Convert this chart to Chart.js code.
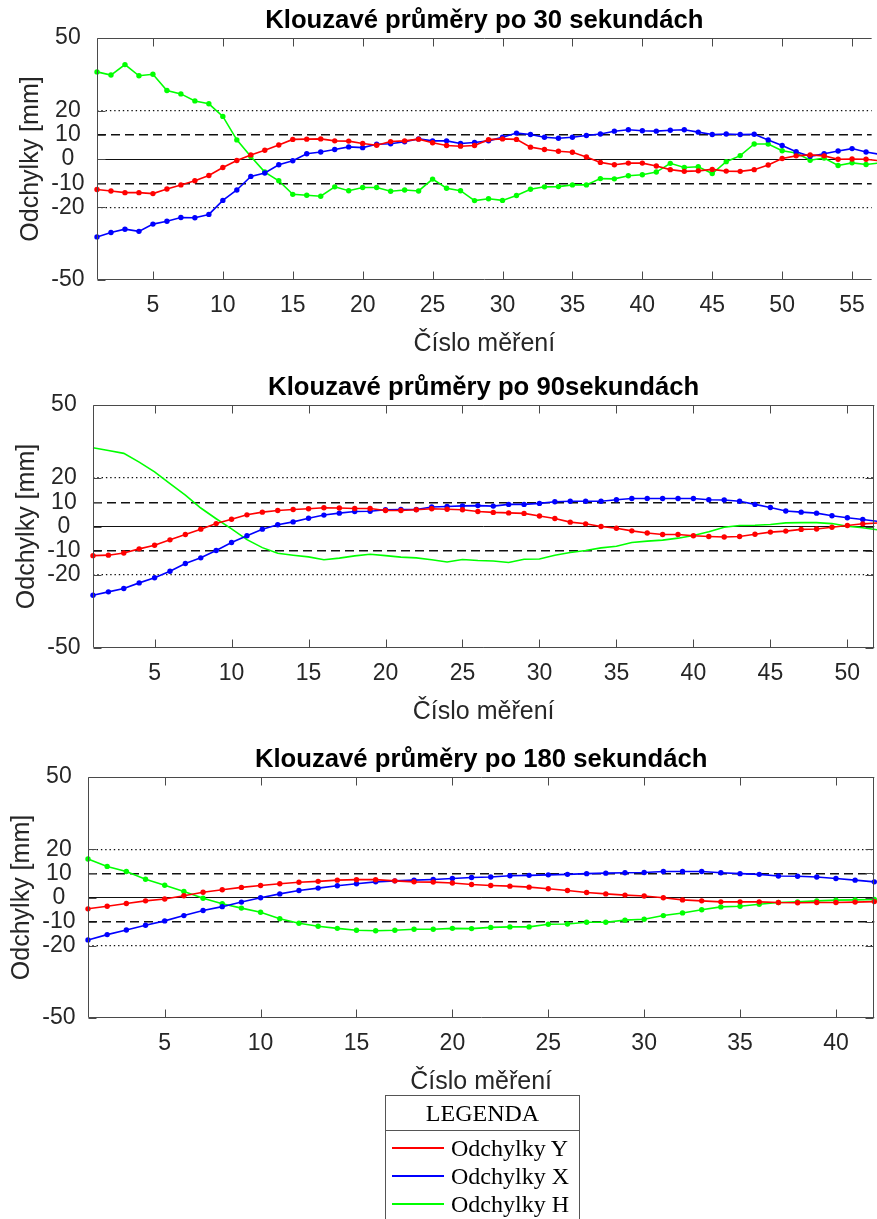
<!DOCTYPE html>
<html>
<head>
<meta charset="utf-8">
<script src="https://cdn.jsdelivr.net/npm/chart.js@4.4.1/dist/chart.umd.min.js"></script>
<style>
  body { margin: 0; background: #fff; overflow: hidden; width: 877px; height: 1219px; position: relative; }
  canvas { position: absolute; left: 0; }
  #legenda { position: absolute; left: 385px; top: 1095px; width: 195px; height: 140px; box-sizing: border-box;
             border: 1px solid #555; font-family: "Liberation Serif", "DejaVu Serif", serif; color: #000; }
  #legenda .hlava { height: 34px; border-bottom: 1px solid #555; text-align: center; font-size: 24px; line-height: 34px; }
  #legenda .radky { padding-top: 3px; }
  #legenda .radek { height: 28px; display: flex; align-items: center; padding-left: 6px; font-size: 24px; }
  #legenda .cara { width: 52px; height: 1.5px; margin-right: 7px; }
</style>
</head>
<body>
<canvas id="graf30" width="877" height="370" style="top:0px"></canvas>
<canvas id="graf90" width="877" height="371" style="top:367px"></canvas>
<canvas id="graf180" width="877" height="369" style="top:739px"></canvas>
<div id="legenda"></div>

<script>
// popisky os
var tickyY = [-50, -20, -10, 0, 10, 20, 50];
var tickyX30 = [5, 10, 15, 20, 25, 30, 35, 40, 45, 50, 55];
var tickyX90 = [5, 10, 15, 20, 25, 30, 35, 40, 45, 50];
var tickyX180 = [5, 10, 15, 20, 25, 30, 35, 40];

var nazvyRad = ['Odchylky Y', 'Odchylky X', 'Odchylky H'];
var barvyRad = ['#ff0000', '#0000ff', '#00ff00'];

// klouzave prumery po 30 s
var odchY30 = [-12.6, -13.2, -13.9, -13.9, -14.3, -12.4, -10.7, -9.0, -6.8, -3.5,
  -0.6, 1.7, 3.6, 5.8, 8.1, 8.2, 8.3, 7.5, 7.4, 6.4,
  5.7, 7.2, 7.5, 8.2, 6.7, 5.6, 5.3, 5.6, 8.0, 8.3,
  8.1, 4.9, 3.9, 3.2, 2.8, 0.8, -1.4, -2.4, -1.7, -1.7,
  -2.9, -4.4, -5.1, -4.9, -4.3, -5.0, -5.1, -4.4, -2.5, 0.2,
  1.3, 1.7, 1.3, -0.1, 0.0, -0.1, -0.8];
var odchX30 = [-32.2, -30.4, -29.0, -29.9, -26.9, -25.7, -24.2, -24.3, -22.9, -17.1,
  -12.8, -7.2, -5.8, -2.4, -0.7, 2.2, 2.9, 3.9, 5.0, 4.7,
  6.1, 6.3, 7.1, 8.3, 7.5, 7.5, 6.4, 6.8, 7.5, 9.0,
  10.7, 10.1, 9.0, 8.6, 9.0, 9.7, 10.3, 11.5, 12.1, 11.7,
  11.5, 11.9, 12.1, 11.1, 10.1, 10.3, 10.1, 10.2, 7.9, 5.6,
  3.0, 1.1, 2.2, 3.3, 4.3, 2.9, 1.9];
var odchH30 = [36.0, 34.7, 39.0, 34.4, 35.0, 28.3, 26.9, 24.0, 22.8, 17.6,
  7.9, 1.0, -5.4, -9.0, -14.6, -15.0, -15.4, -11.5, -13.1, -11.8,
  -11.8, -13.3, -12.8, -13.2, -8.3, -12.1, -13.1, -17.2, -16.4, -17.1,
  -15.1, -12.5, -11.5, -11.4, -10.7, -10.7, -8.1, -8.2, -6.9, -6.5,
  -5.4, -1.8, -3.5, -3.2, -6.0, -1.1, 1.4, 6.2, 6.2, 3.4,
  2.5, -0.5, 0.4, -2.7, -1.6, -2.3, -1.6];

// klouzave prumery po 90 s
var odchY90 = [-12.0, -11.8, -10.9, -9.2, -7.7, -5.5, -3.3, -1.1, 1.2, 3.0,
  4.8, 5.9, 6.6, 7.0, 7.3, 7.7, 7.6, 7.4, 7.4, 6.6,
  6.6, 6.9, 7.3, 7.1, 6.9, 6.2, 5.8, 5.6, 5.4, 4.3,
  3.3, 1.8, 1.1, 0.0, -0.7, -1.8, -2.7, -3.3, -3.3, -3.8,
  -4.1, -4.3, -4.1, -3.2, -2.3, -1.9, -1.2, -1.0, -0.3, 0.4,
  1.1, 1.5];
var odchX90 = [-28.3, -26.9, -25.5, -23.2, -21.1, -18.4, -15.2, -12.9, -9.9, -6.6,
  -3.8, -1.1, 0.7, 1.9, 3.4, 4.7, 5.5, 6.2, 6.3, 6.9,
  7.0, 7.0, 8.0, 8.2, 8.5, 8.6, 8.4, 9.1, 9.1, 9.5,
  10.2, 10.4, 10.4, 10.4, 11.0, 11.5, 11.5, 11.5, 11.5, 11.5,
  11.0, 10.9, 10.4, 9.1, 7.8, 6.4, 5.9, 5.5, 4.4, 3.6,
  2.9, 2.1];
var odchH90 = [32.4, 31.3, 30.1, 26.5, 22.5, 17.6, 12.9, 7.6, 3.2, -1.0,
  -5.4, -8.7, -11.0, -11.8, -12.5, -13.7, -13.0, -12.1, -11.4, -12.0,
  -12.6, -12.9, -13.7, -14.6, -13.6, -14.0, -14.2, -14.8, -13.5, -13.4,
  -11.8, -10.7, -9.9, -8.8, -8.1, -6.6, -6.0, -5.6, -4.8, -3.7,
  -2.2, -0.3, 0.4, 0.5, 0.8, 1.5, 1.6, 1.6, 1.2, 0.1,
  -0.5, -1.4];

// klouzave prumery po 180 s
var odchY180 = [-4.7, -3.6, -2.5, -1.4, -0.6, 0.7, 2.2, 3.2, 4.2, 5.0,
  5.7, 6.3, 6.7, 7.2, 7.4, 7.4, 6.9, 6.5, 6.4, 6.0,
  5.4, 5.0, 4.7, 4.3, 3.6, 2.9, 2.1, 1.5, 1.0, 0.6,
  -0.1, -1.0, -1.4, -1.8, -1.8, -1.8, -2.1, -2.2, -2.1, -2.1,
  -1.9, -1.7];
var odchX180 = [-17.6, -15.4, -13.5, -11.5, -9.7, -7.5, -5.4, -3.8, -1.9, -0.1,
  1.5, 2.9, 3.9, 4.9, 5.7, 6.5, 6.9, 7.2, 7.5, 7.9,
  8.3, 8.5, 9.0, 9.2, 9.4, 9.6, 9.9, 10.1, 10.3, 10.4,
  10.8, 10.8, 10.8, 10.3, 9.9, 9.6, 8.9, 8.8, 8.5, 7.9,
  7.2, 6.5];
var odchH180 = [16.0, 12.9, 10.8, 7.6, 5.1, 2.5, -0.3, -2.6, -4.4, -6.1,
  -8.8, -10.7, -11.9, -12.8, -13.6, -13.8, -13.6, -13.2, -13.2, -12.8,
  -12.9, -12.4, -12.2, -12.2, -11.1, -11.0, -10.3, -10.3, -9.4, -9.0,
  -7.5, -6.4, -5.1, -3.9, -3.6, -2.8, -2.1, -1.8, -1.4, -1.1,
  -1.0, -0.8];

var PISMO = '"Liberation Sans", Arial, Helvetica, sans-serif';
var SEDA = '#262626';

// ramecek grafu a ticky dovnitr (jako v matlabu)
var ramecek = {
  id: 'ramecek',
  afterDatasetsDraw: function(chart, args, opts) {
    var ctx = chart.ctx, a = chart.chartArea;
    var sx = chart.scales.x, sy = chart.scales.y;
    var L = Math.round(a.left) + 0.5, R = Math.round(a.right) - 0.5;
    var T = Math.round(a.top) + 0.5, B = Math.round(a.bottom) - 0.5;
    ctx.save();
    ctx.strokeStyle = '#4a4a4a';
    ctx.lineWidth = 1;
    ctx.beginPath();
    ctx.moveTo(L, B); ctx.lineTo(L, T); ctx.lineTo(a.right, T);
    ctx.moveTo(L, B); ctx.lineTo(a.right, B);
    if (opts.vpravo) { ctx.moveTo(R, T); ctx.lineTo(R, B); }
    sx.ticks.forEach(function(t) {
      var p = Math.round(sx.getPixelForValue(t.value)) + 0.5;
      ctx.moveTo(p, B); ctx.lineTo(p, B - 8);
      ctx.moveTo(p, T); ctx.lineTo(p, T + 8);
    });
    sy.ticks.forEach(function(t) {
      var p = Math.round(sy.getPixelForValue(t.value)) + 0.5;
      ctx.moveTo(L, p); ctx.lineTo(L + 8, p);
      if (opts.vpravo) { ctx.moveTo(R, p); ctx.lineTo(R - 8, p); }
    });
    ctx.stroke();
    ctx.restore();
  }
};

function body(hodnoty) {
  return hodnoty.map(function(v, i) { return {x: i + 1, y: v}; });
}

function rada(nazev, barva, hodnoty, znacky) {
  return {
    label: nazev,
    data: body(hodnoty),
    borderColor: barva,
    backgroundColor: barva,
    borderWidth: 1.6,
    pointRadius: znacky ? 2.7 : 0,
    pointBorderWidth: 0,
    pointHoverRadius: 0,
    tension: 0,
    clip: false
  };
}

function typCary(c) {
  var v = c.tick ? Math.abs(c.tick.value) : 0;
  return v;
}

function buildChart(id, nadpis, serie, tickyX, xMax, vlevo, vpravo) {
  return new Chart(document.getElementById(id), {
    type: 'line',
    data: { datasets: serie },
    options: {
      responsive: false,
      animation: false,
      events: [],
      layout: { padding: 0 },
      plugins: {
        legend: { display: false },
        tooltip: { enabled: false },
        title: {
          display: true,
          text: nadpis,
          fullSize: false,
          color: '#000',
          font: { family: PISMO, size: 25.7, weight: 'bold', lineHeight: 1.2 },
          padding: { top: 5.2, bottom: 1.96 }
        },
        ramecek: { vpravo: vpravo }
      },
      scales: {
        x: {
          type: 'linear',
          min: 1,
          max: xMax,
          afterBuildTicks: function(s) { s.ticks = tickyX.map(function(v) { return {value: v}; }); },
          afterFit: function(s) { s.height = 90; },
          grid: { display: false, drawTicks: false },
          border: { display: false },
          ticks: {
            autoSkip: false, maxRotation: 0, padding: 12, color: SEDA,
            font: { family: PISMO, size: 23 },
            callback: function(v) { return String(v); }
          },
          title: {
            display: true, text: 'Číslo měření', color: SEDA,
            font: { family: PISMO, size: 25 },
            padding: { top: 0, bottom: 11 }
          }
        },
        y: {
          type: 'linear',
          min: -50,
          max: 50,
          afterBuildTicks: function(s) { s.ticks = tickyY.map(function(v) { return {value: v}; }); },
          afterFit: function(s) { s.width = vlevo; },
          grid: {
            drawTicks: false,
            color: function(c) { var v = typCary(c); return v === 50 ? 'rgba(0,0,0,0)' : '#111'; },
            lineWidth: function(c) { var v = typCary(c); return v === 20 ? 1.3 : (v === 10 ? 1.4 : 1); }
          },
          border: {
            display: false,
            dash: function(c) { var v = typCary(c); return v === 20 ? [1.4, 2.9] : (v === 10 ? [9, 5] : []); }
          },
          ticks: {
            crossAlign: 'center', padding: 12.5, color: SEDA,
            font: { family: PISMO, size: 23 },
            callback: function(v) { return String(v); }
          },
          title: {
            display: true, text: 'Odchylky [mm]', color: SEDA,
            font: { family: PISMO, size: 25 },
            padding: { top: vlevo - 81, bottom: 0 }
          }
        }
      }
    },
    plugins: [ramecek]
  });
}

buildChart('graf30', 'Klouzavé průměry po 30 sekundách', [
  rada(nazvyRad[0], barvyRad[0], odchY30, true),
  rada(nazvyRad[1], barvyRad[1], odchX30, true),
  rada(nazvyRad[2], barvyRad[2], odchH30, true)
], tickyX30, 56.4, 97, false);

buildChart('graf90', 'Klouzavé průměry po 90sekundách', [
  rada(nazvyRad[0], barvyRad[0], odchY90, true),
  rada(nazvyRad[1], barvyRad[1], odchX90, true),
  rada(nazvyRad[2], barvyRad[2], odchH90, false)
], tickyX90, 51.75, 93, true);

buildChart('graf180', 'Klouzavé průměry po 180 sekundách', [
  rada(nazvyRad[0], barvyRad[0], odchY180, true),
  rada(nazvyRad[1], barvyRad[1], odchX180, true),
  rada(nazvyRad[2], barvyRad[2], odchH180, true)
], tickyX180, 42, 88, true);

// legenda pod grafy
var leg = document.getElementById('legenda');
var html = '<div class="hlava">LEGENDA</div><div class="radky">';
for (var i = 0; i < nazvyRad.length; i++) {
  html += '<div class="radek"><span class="cara" style="background:' + barvyRad[i] + '"></span>' + nazvyRad[i] + '</div>';
}
leg.innerHTML = html + '</div>';
</script>
</body>
</html>
